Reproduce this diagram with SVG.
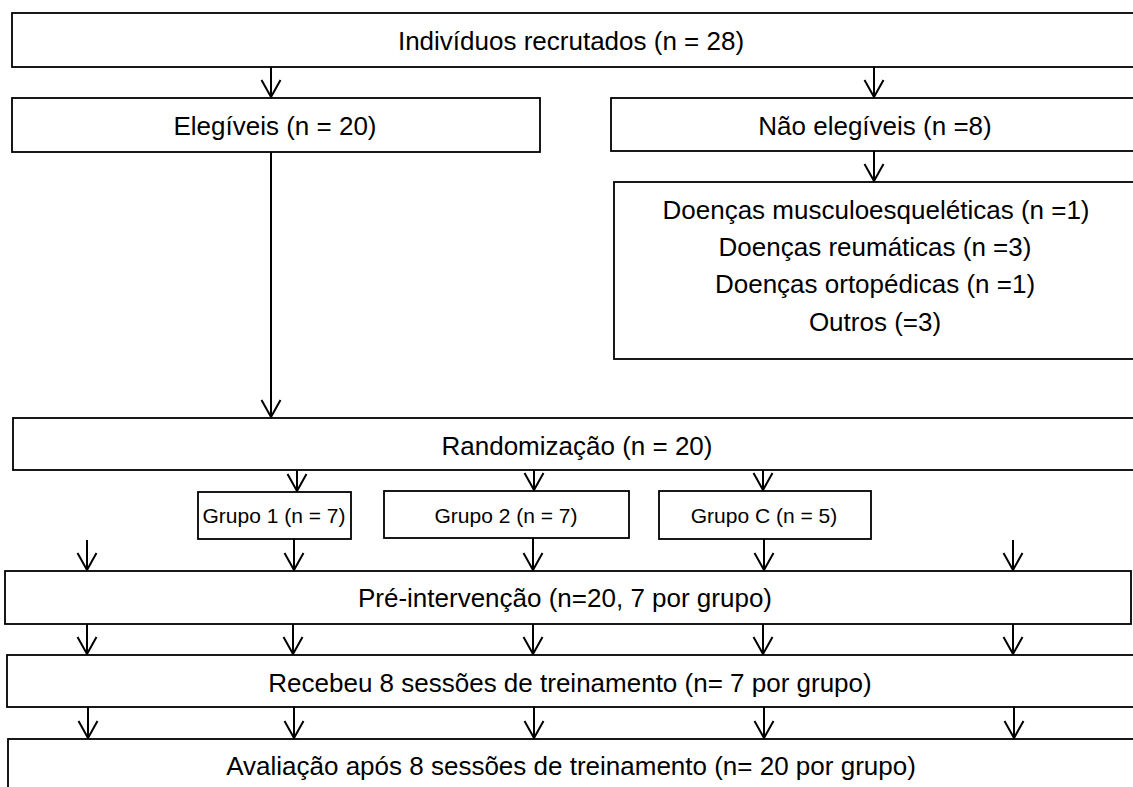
<svg xmlns="http://www.w3.org/2000/svg" width="1133" height="787" viewBox="0 0 1133 787">
<defs>
<style>
.box{fill:#fff;stroke:#000;stroke-width:1.8}
.t{font-family:"Liberation Sans",Arial,sans-serif;font-size:26px;fill:#000;text-anchor:middle}
.s{font-family:"Liberation Sans",Arial,sans-serif;font-size:21px;fill:#000;text-anchor:middle}
.ln{stroke:#000;stroke-width:2;fill:none}
</style>
<marker id="ah" markerUnits="userSpaceOnUse" viewBox="-19 -11 21 22" refX="0" refY="0" markerWidth="21" markerHeight="22" orient="auto">
<path d="M-17,-9.5 L0,0 L-17,9.5" fill="none" stroke="#000" stroke-width="2"/>
</marker>
</defs>
<rect width="1133" height="787" fill="#fff"/>
<g id="connectors">
<line class="ln" x1="271" y1="67" x2="271" y2="97" marker-end="url(#ah)"/>
<line class="ln" x1="874" y1="67" x2="874" y2="97" marker-end="url(#ah)"/>
<line class="ln" x1="874" y1="151" x2="874" y2="181" marker-end="url(#ah)"/>
<line class="ln" x1="271" y1="152" x2="271" y2="417" marker-end="url(#ah)"/>
<line class="ln" x1="297" y1="463" x2="297" y2="491" marker-end="url(#ah)"/>
<line class="ln" x1="534" y1="463" x2="534" y2="490" marker-end="url(#ah)"/>
<line class="ln" x1="763" y1="463" x2="763" y2="490" marker-end="url(#ah)"/>
<line class="ln" x1="87" y1="540" x2="87" y2="570" marker-end="url(#ah)"/>
<line class="ln" x1="294" y1="539" x2="294" y2="570" marker-end="url(#ah)"/>
<line class="ln" x1="533" y1="538" x2="533" y2="570" marker-end="url(#ah)"/>
<line class="ln" x1="764" y1="539" x2="764" y2="570" marker-end="url(#ah)"/>
<line class="ln" x1="1013" y1="540" x2="1013" y2="570" marker-end="url(#ah)"/>
<line class="ln" x1="87" y1="624" x2="87" y2="654" marker-end="url(#ah)"/>
<line class="ln" x1="293" y1="624" x2="293" y2="654" marker-end="url(#ah)"/>
<line class="ln" x1="533" y1="624" x2="533" y2="654" marker-end="url(#ah)"/>
<line class="ln" x1="763" y1="624" x2="763" y2="654" marker-end="url(#ah)"/>
<line class="ln" x1="1013" y1="624" x2="1013" y2="654" marker-end="url(#ah)"/>
<line class="ln" x1="88" y1="707" x2="88" y2="738" marker-end="url(#ah)"/>
<line class="ln" x1="294" y1="707" x2="294" y2="738" marker-end="url(#ah)"/>
<line class="ln" x1="534" y1="707" x2="534" y2="738" marker-end="url(#ah)"/>
<line class="ln" x1="764" y1="707" x2="764" y2="738" marker-end="url(#ah)"/>
<line class="ln" x1="1014" y1="707" x2="1014" y2="738" marker-end="url(#ah)"/>
</g>
<g id="recrutados">
<rect class="box" x="12" y="13" width="1130" height="54"/>
<text class="t" x="571" y="50">Indivíduos recrutados (n = 28)</text>
</g>
<g id="elegiveis">
<rect class="box" x="12" y="98" width="528" height="54"/>
<text class="t" x="275" y="135">Elegíveis (n = 20)</text>
</g>
<g id="nao-elegiveis">
<rect class="box" x="611" y="98" width="531" height="53"/>
<text class="t" x="875" y="135">Não elegíveis (n =8)</text>
</g>
<g id="doencas">
<rect class="box" x="614" y="182" width="528" height="177"/>
<text class="t" x="876" y="219">Doenças musculoesqueléticas (n =1)</text>
<text class="t" x="875" y="256">Doenças reumáticas (n =3)</text>
<text class="t" x="875" y="293">Doenças ortopédicas (n =1)</text>
<text class="t" x="875" y="331">Outros (=3)</text>
</g>
<g id="randomizacao">
<rect class="box" x="13" y="418" width="1129" height="52"/>
<text class="t" x="577" y="455">Randomização (n = 20)</text>
</g>
<g id="grupo1">
<rect class="box" x="198" y="492" width="153" height="47"/>
<text class="s" x="274" y="523">Grupo 1 (n = 7)</text>
</g>
<g id="grupo2">
<rect class="box" x="384" y="491" width="245" height="47"/>
<text class="s" x="506" y="523">Grupo 2 (n = 7)</text>
</g>
<g id="grupoC">
<rect class="box" x="659" y="491" width="212" height="48"/>
<text class="s" x="764" y="523">Grupo C (n = 5)</text>
</g>
<g id="pre-intervencao">
<rect class="box" x="5" y="571" width="1126" height="53"/>
<text class="t" x="565" y="607">Pré-intervenção (n=20, 7 por grupo)</text>
</g>
<g id="recebeu">
<rect class="box" x="7" y="655" width="1135" height="52"/>
<text class="t" x="570" y="692">Recebeu 8 sessões de treinamento (n= 7 por grupo)</text>
</g>
<g id="avaliacao">
<rect class="box" x="8" y="739" width="1134" height="60"/>
<text class="t" x="571" y="775">Avaliação após 8 sessões de treinamento (n= 20 por grupo)</text>
</g>
</svg>
